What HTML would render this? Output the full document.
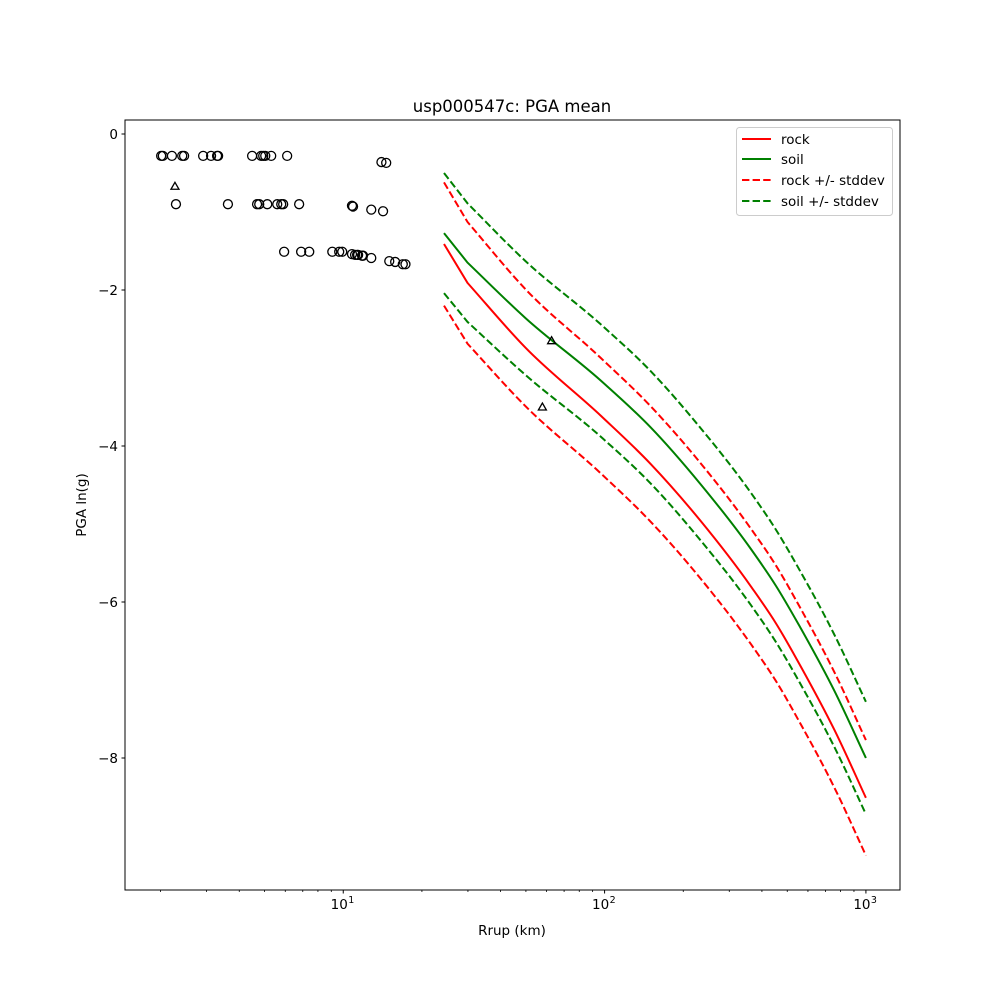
<!DOCTYPE html>
<html><head><meta charset="utf-8"><style>
body{margin:0;background:#fff}
svg text{font-family:"DejaVu Sans","Liberation Sans",sans-serif;fill:#000}
</style></head><body>
<svg id="chart" width="1000" height="1000" xmlns="http://www.w3.org/2000/svg">
<rect width="1000" height="1000" fill="#fff"/>
<g id="plot"></g>
</svg>
<script>
const obsDist = [2.01,2.04,2.21,2.42,2.46,2.91,3.12,3.29,3.32,4.48,4.85,4.94,5.03,5.30,6.10,14.0,14.6,
  2.29,3.62,4.68,4.77,5.12,5.59,5.79,5.89,6.78,10.8,10.9,12.8,14.2,
  5.94,6.90,7.41,9.08,9.65,9.91,10.8,11.1,11.3,11.4,11.8,11.9,12.8,15.0,15.8,16.9,17.3];
const obsPga = [-0.28,-0.28,-0.28,-0.28,-0.28,-0.28,-0.28,-0.28,-0.28,-0.28,-0.28,-0.28,-0.28,-0.28,-0.28,-0.36,-0.37,
  -0.9,-0.9,-0.9,-0.9,-0.9,-0.9,-0.9,-0.9,-0.9,-0.92,-0.93,-0.97,-0.99,
  -1.51,-1.51,-1.51,-1.51,-1.51,-1.51,-1.54,-1.55,-1.55,-1.55,-1.56,-1.56,-1.59,-1.63,-1.64,-1.67,-1.67];
const triDist = [2.27,62.7,57.8];
const triPga = [-0.67,-2.65,-3.5];
const curveDist = [24.3,29.9,49.8,96.6,150,233,363,452,564,755,1000];
const rockMean = [-1.41,-1.91,-2.74,-3.61,-4.23,-4.96,-5.80,-6.27,-6.83,-7.63,-8.51];
const soilMean = [-1.27,-1.65,-2.36,-3.16,-3.76,-4.49,-5.32,-5.79,-6.34,-7.13,-8.00];
const rockSigma = [0.79,0.78,0.75,0.74,0.74,0.74,0.74,0.74,0.74,0.74,0.74];
const soilSigma = [0.77,0.76,0.73,0.72,0.72,0.72,0.72,0.72,0.72,0.72,0.72];
const yTicks = [0,-2,-4,-6,-8];
const xDecades = [1,2,3];

const L=125,R=900,T=120,B=890;
const X0=Math.log10(1.4617), X1=Math.log10(1350.3);
const Y0=-9.6923, Y1=0.1795;
const sx=d=>L+(Math.log10(d)-X0)/(X1-X0)*(R-L);
const sy=v=>B-(v-Y0)/(Y1-Y0)*(B-T);
const NS='http://www.w3.org/2000/svg';
const g=document.getElementById('plot');
function mk(tag,attrs,parent){const e=document.createElementNS(NS,tag);for(const k in attrs)e.setAttribute(k,attrs[k]);(parent||g).appendChild(e);return e;}

function smoothPath(vals){
  const P=curveDist.map((x,i)=>[sx(x),sy(vals[i])]);
  const n=P.length;
  const sec=i=>(P[i+1][1]-P[i][1])/(P[i+1][0]-P[i][0]);
  const m=i=>{
    if(i<=1) return sec(i);
    if(i===n-1) return sec(i-1);
    const h0=P[i][0]-P[i-1][0],h1=P[i+1][0]-P[i][0];
    return (sec(i-1)*h1+sec(i)*h0)/(h0+h1);
  };
  let d='M'+P[0][0].toFixed(1)+' '+P[0][1].toFixed(1)+' L'+P[1][0].toFixed(1)+' '+P[1][1].toFixed(1);
  for(let i=1;i<n-1;i++){
    const h=P[i+1][0]-P[i][0];
    const c1=[P[i][0]+h/3,P[i][1]+m(i)*h/3],c2=[P[i+1][0]-h/3,P[i+1][1]-m(i+1)*h/3];
    d+=' C'+c1[0].toFixed(1)+' '+c1[1].toFixed(1)+' '+c2[0].toFixed(1)+' '+c2[1].toFixed(1)+' '+P[i+1][0].toFixed(1)+' '+P[i+1][1].toFixed(1);
  }
  return d;
}
function curve(vals,color,dash,name){
  const p=mk('path',{d:smoothPath(vals),fill:'none',stroke:color,'stroke-width':2,'stroke-dasharray':dash?'7.4,3.2':'none'});
  
  
}
curve(rockMean,'#ff0000',false,'rock-mean-line');
curve(soilMean,'#008000',false,'soil-mean-line');
curve(rockMean.map((v,i)=>v+rockSigma[i]),'#ff0000',true,'rock-upper-stddev-line');
curve(rockMean.map((v,i)=>v-rockSigma[i]),'#ff0000',true,'rock-lower-stddev-line');
curve(soilMean.map((v,i)=>v+soilSigma[i]),'#008000',true,'soil-upper-stddev-line');
curve(soilMean.map((v,i)=>v-soilSigma[i]),'#008000',true,'soil-lower-stddev-line');

obsDist.forEach((d,i)=>{
  const c=mk('circle',{cx:sx(d),cy:sy(obsPga[i]),r:4.5,fill:'none',stroke:'#000','stroke-width':1.3});
  
  
});
triDist.forEach((d,i)=>{
  const x=sx(d),y=sy(triPga[i]);
  const p=mk('path',{d:`M${x} ${y-4}L${x+4} ${y+3}L${x-4} ${y+3}Z`,fill:'none',stroke:'#000','stroke-width':1.3});
  
  
});

const fr=mk('rect',{x:L,y:T,width:R-L,height:B-T,fill:'none',stroke:'#000','stroke-width':1});



yTicks.forEach(v=>{
  const y=sy(v);
  const t=mk('line',{x1:L-3.5,x2:L,y1:y,y2:y,stroke:'#000'});
  
  
  const tx=mk('text',{x:L-7,y:y+5,'text-anchor':'end','font-size':13.5});
  tx.textContent=(v<0?'\u2212':'')+Math.abs(v);
  
  
});
xDecades.forEach(e=>{
  const x=sx(Math.pow(10,e));
  const t=mk('line',{x1:x,x2:x,y1:B,y2:B+3.5,stroke:'#000'});
  
  
  const tx=mk('text',{x:x-4,y:B+19,'text-anchor':'middle','font-size':13.5});
  tx.textContent='10';
  
  
  const sp=mk('text',{x:x+5,y:B+13,'font-size':9.5});
  sp.textContent=String(e);
});
[0,1,2].forEach(e=>{for(let m=2;m<=9;m++){const d=m*Math.pow(10,e);const x=sx(d);if(x<L||x>R)continue;
  const t=mk('line',{x1:x,x2:x,y1:B,y2:B+2,stroke:'#000','stroke-width':0.8});
  
  }});
</script>
<svg width="1000" height="1000" style="position:absolute;left:0;top:0" xmlns="http://www.w3.org/2000/svg">
<text x="512" y="112" text-anchor="middle" font-size="16.5">usp000547c: PGA mean</text>
<text x="512" y="935" text-anchor="middle" font-size="13.5">Rrup (km)</text>
<text x="86" y="505" text-anchor="middle" font-size="13.5" transform="rotate(-90 86 505)">PGA ln(g)</text>
<g>
<rect x="736.5" y="127.5" width="156" height="88" rx="3" fill="#fff" fill-opacity="0.8" stroke="#ccc"/>
<g><line x1="742" x2="771" y1="139" y2="139" stroke="#f00" stroke-width="2"/><text x="781" y="144" font-size="13.5">rock</text></g>
<g><line x1="742" x2="771" y1="159" y2="159" stroke="#008000" stroke-width="2"/><text x="781" y="164" font-size="13.5">soil</text></g>
<g><line x1="742" x2="771" y1="180" y2="180" stroke="#f00" stroke-width="2" stroke-dasharray="7.4,3.2"/><text x="781" y="185" font-size="13.5">rock +/- stddev</text></g>
<g><line x1="742" x2="771" y1="201" y2="201" stroke="#008000" stroke-width="2" stroke-dasharray="7.4,3.2"/><text x="781" y="206" font-size="13.5">soil +/- stddev</text></g>
</g>
</svg>
</body></html>
